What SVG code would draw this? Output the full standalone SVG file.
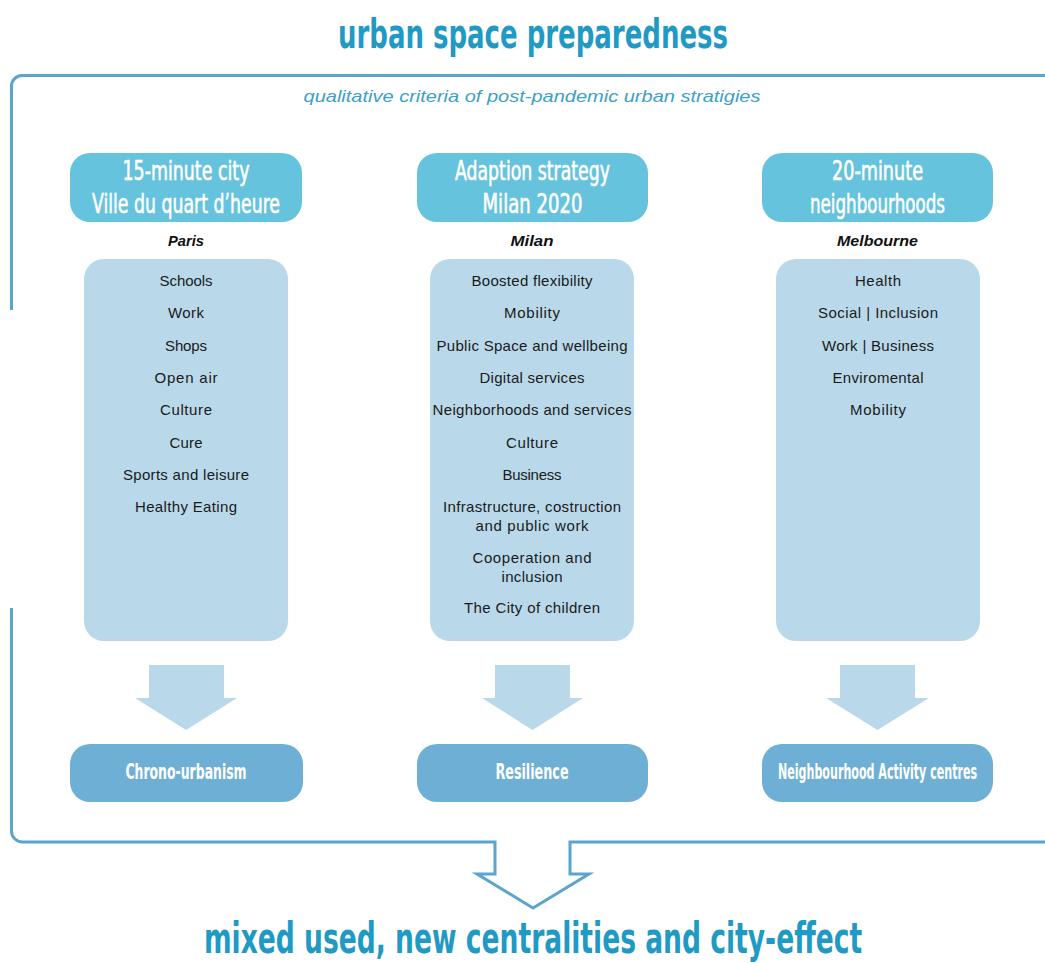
<svg xmlns="http://www.w3.org/2000/svg" width="1045" height="963" viewBox="0 0 1045 963">
  <style>
    .title { font-family: 'Liberation Sans Narrow', 'DejaVu Sans Condensed', 'Liberation Sans', sans-serif; font-stretch: condensed; font-weight: bold; fill: #1f9ac5; text-anchor: middle; }
    .sub { font-family: 'Liberation Sans', Arial, sans-serif; font-style: italic; font-size: 17px; fill: #3c9fc8; text-anchor: middle; }
    .head { fill: #66c3dd; }
    .headtxt { font-family: 'Liberation Sans Narrow', 'DejaVu Sans Condensed', 'Liberation Sans', sans-serif; font-stretch: condensed; font-size: 26px; fill: #ffffff; stroke: #ffffff; stroke-width: 0.6px; text-anchor: middle; }
    .city { font-family: 'Liberation Sans', Arial, sans-serif; font-style: italic; font-weight: bold; font-size: 14px; fill: #111111; text-anchor: middle; }
    .list { fill: #b9d9ea; }
    .item { font-family: 'Liberation Sans', Arial, sans-serif; font-size: 15px; fill: #1a1a1a; text-anchor: middle; }
    .out { fill: #6eb0d5; }
    .outtxt { font-family: 'Liberation Sans Narrow', 'DejaVu Sans Condensed', 'Liberation Sans', sans-serif; font-stretch: condensed; font-weight: bold; font-size: 21px; fill: #ffffff; text-anchor: middle; }
    .blk { fill: #b9d9ea; }
    .frame { fill: none; stroke: #5ba4cd; stroke-width: 3; stroke-linejoin: miter; }
  </style>

  <!-- headings (narrowed horizontally to a condensed face) -->
  <g id="title">
    <text class="title" transform="translate(533 48) scale(0.6 1)" x="0" y="0" font-size="40" textLength="650" lengthAdjust="spacingAndGlyphs">urban space preparedness</text>
  </g>
  <g id="subtitle">
    <text class="sub" x="532" y="102" textLength="457" lengthAdjust="spacingAndGlyphs">qualitative criteria of post-pandemic urban stratigies</text>
  </g>

  <!-- column 1: Paris -->
  <g id="paris-head">
    <rect class="head" x="70" y="153" width="232" height="69" rx="20"/>
    <text class="headtxt" x="186" y="180" textLength="127" lengthAdjust="spacingAndGlyphs">15-minute city</text>
    <text class="headtxt" x="186" y="213" textLength="188" lengthAdjust="spacingAndGlyphs">Ville du quart d’heure</text>
  </g>
  <g id="paris-label">
    <text class="city" x="186" y="246" textLength="36" lengthAdjust="spacingAndGlyphs">Paris</text>
  </g>
  <g id="paris-list">
    <rect class="list" x="84" y="259" width="204" height="382" rx="20"/>
    <text class="item" x="186" y="286" textLength="53">Schools</text>
    <text class="item" x="186" y="318.3" textLength="36">Work</text>
    <text class="item" x="186" y="350.6" textLength="42">Shops</text>
    <text class="item" x="186" y="382.9" textLength="63">Open air</text>
    <text class="item" x="186" y="415.2" textLength="52">Culture</text>
    <text class="item" x="186" y="447.5" textLength="33">Cure</text>
    <text class="item" x="186" y="479.8" textLength="126">Sports and leisure</text>
    <text class="item" x="186" y="512" textLength="102">Healthy Eating</text>
  </g>
  <g id="paris-result">
    <rect class="out" x="70" y="744" width="233" height="58" rx="20"/>
    <text class="outtxt" transform="translate(186 779) scale(0.6 1)" x="0" y="0" textLength="202" lengthAdjust="spacingAndGlyphs">Chrono-urbanism</text>
  </g>

  <!-- column 2: Milan -->
  <g id="milan-head">
    <rect class="head" x="417" y="153" width="231" height="69" rx="20"/>
    <text class="headtxt" x="532.5" y="180" textLength="155" lengthAdjust="spacingAndGlyphs">Adaption strategy</text>
    <text class="headtxt" x="532.5" y="213" textLength="100" lengthAdjust="spacingAndGlyphs">Milan 2020</text>
  </g>
  <g id="milan-label">
    <text class="city" x="532" y="246" textLength="43" lengthAdjust="spacingAndGlyphs">Milan</text>
  </g>
  <g id="milan-list">
    <rect class="list" x="430" y="259" width="204" height="382" rx="20"/>
    <text class="item" x="532" y="286" textLength="121">Boosted flexibility</text>
    <text class="item" x="532" y="318.3" textLength="56">Mobility</text>
    <text class="item" x="532" y="350.6" textLength="191">Public Space and wellbeing</text>
    <text class="item" x="532" y="382.9" textLength="105">Digital services</text>
    <text class="item" x="532" y="415.2" textLength="199">Neighborhoods and services</text>
    <text class="item" x="532" y="447.5" textLength="52">Culture</text>
    <text class="item" x="532" y="479.8" textLength="59">Business</text>
    <text class="item" x="532" y="512" textLength="178">Infrastructure, costruction</text>
    <text class="item" x="532" y="531" textLength="113">and public work</text>
    <text class="item" x="532" y="563" textLength="119">Cooperation and</text>
    <text class="item" x="532" y="582" textLength="61">inclusion</text>
    <text class="item" x="532" y="613" textLength="136">The City of children</text>
  </g>
  <g id="milan-result">
    <rect class="out" x="417" y="744" width="231" height="58" rx="20"/>
    <text class="outtxt" transform="translate(532 779) scale(0.6 1)" x="0" y="0" textLength="122" lengthAdjust="spacingAndGlyphs">Resilience</text>
  </g>

  <!-- column 3: Melbourne -->
  <g id="melbourne-head">
    <rect class="head" x="762" y="153" width="231" height="69" rx="20"/>
    <text class="headtxt" x="877.5" y="180" textLength="91" lengthAdjust="spacingAndGlyphs">20-minute</text>
    <text class="headtxt" x="877.5" y="213" textLength="135" lengthAdjust="spacingAndGlyphs">neighbourhoods</text>
  </g>
  <g id="melbourne-label">
    <text class="city" x="877.5" y="246" textLength="81" lengthAdjust="spacingAndGlyphs">Melbourne</text>
  </g>
  <g id="melbourne-list">
    <rect class="list" x="776" y="259" width="204" height="382" rx="20"/>
    <text class="item" x="878" y="286" textLength="46">Health</text>
    <text class="item" x="878" y="318.3" textLength="120">Social | Inclusion</text>
    <text class="item" x="878" y="350.6" textLength="112">Work | Business</text>
    <text class="item" x="878" y="382.9" textLength="91">Enviromental</text>
    <text class="item" x="878" y="415.2" textLength="56">Mobility</text>
  </g>
  <g id="melbourne-result">
    <rect class="out" x="762" y="744" width="231" height="58" rx="20"/>
    <text class="outtxt" transform="translate(877.5 779) scale(0.6 1)" x="0" y="0" textLength="332" lengthAdjust="spacingAndGlyphs">Neighbourhood Activity centres</text>
  </g>

  <!-- connectors: block arrows and the enclosing frame with its outlet arrow -->
  <g id="connectors">
    <path class="blk" d="M149 665 H224 V698 H237 L186 730 L135 698 H149 Z"/>
    <path class="blk" d="M495 665 H570 V698 H583 L532.5 730 L482 698 H495 Z"/>
    <path class="blk" d="M840 665 H915 V698 H929 L877.5 730 L826 698 H840 Z"/>
    <path class="frame" d="M1046 75.5 H22 A10.5 10.5 0 0 0 11.5 86 V310"/>
    <path class="frame" d="M11.5 608 V831 A11 11 0 0 0 22.5 842 H495 V874 H477 L533 908 L589 874 H570 V842 H1046"/>
  </g>

  <g id="conclusion">
    <text class="title" transform="translate(533 953) scale(0.6 1)" x="0" y="0" font-size="42" textLength="1097" lengthAdjust="spacingAndGlyphs">mixed used, new centralities and city-effect</text>
  </g>
</svg>
